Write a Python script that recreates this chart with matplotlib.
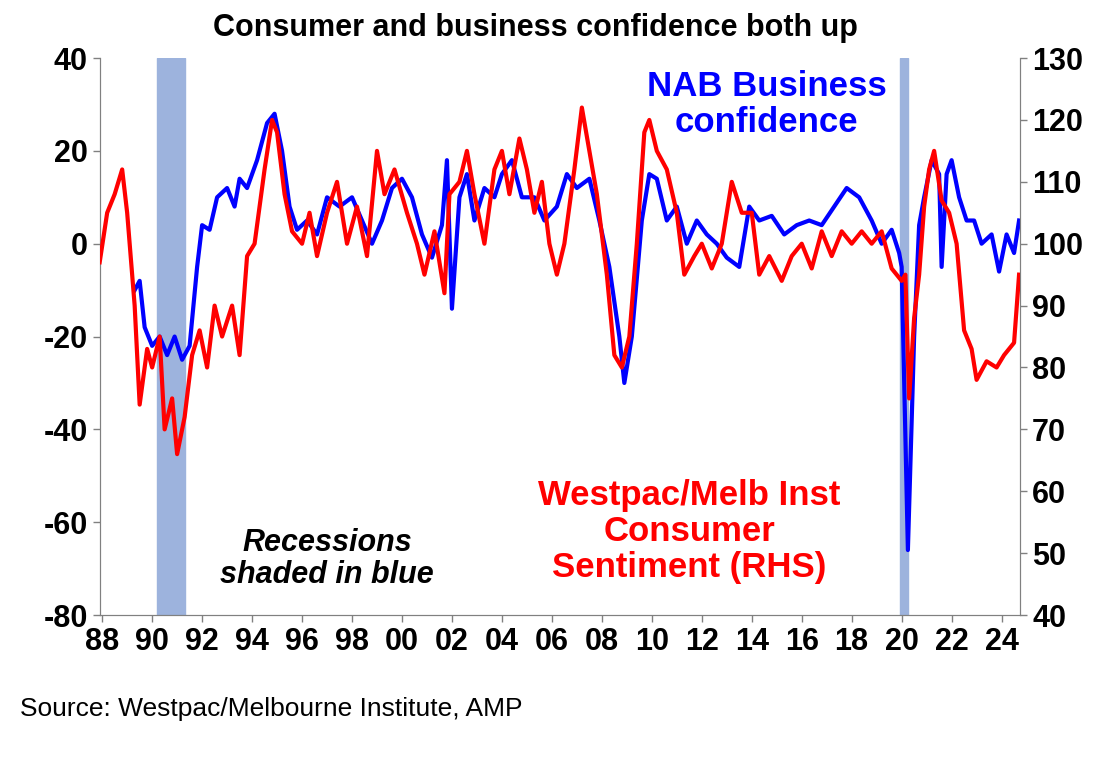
import matplotlib
matplotlib.use("Agg")
import matplotlib.pyplot as plt

plt.rcParams['font.family'] = ['Liberation Sans', 'DejaVu Sans']
plt.rcParams['axes.unicode_minus'] = False

nab_t = [1989.3, 1989.5, 1989.7, 1990.0, 1990.3, 1990.6, 1990.9, 1991.2, 1991.5, 1991.8, 1992.0, 1992.3,
         1992.6, 1993.0, 1993.3, 1993.5, 1993.8, 1994.2, 1994.6, 1994.9, 1995.2, 1995.5, 1995.8, 1996.2,
         1996.6, 1997.0, 1997.5, 1998.0, 1998.4, 1998.8, 1999.2, 1999.6, 2000.0, 2000.4, 2000.8, 2001.2,
         2001.6, 2001.8, 2002.0, 2002.3, 2002.6, 2002.9, 2003.3, 2003.7, 2004.0, 2004.4, 2004.8, 2005.3,
         2005.7, 2006.2, 2006.6, 2007.0, 2007.5, 2007.9, 2008.3, 2008.7, 2008.9, 2009.2, 2009.6, 2009.9,
         2010.2, 2010.6, 2011.0, 2011.4, 2011.8, 2012.2, 2012.6, 2013.0, 2013.5, 2013.9, 2014.3, 2014.8,
         2015.3, 2015.8, 2016.3, 2016.8, 2017.3, 2017.8, 2018.3, 2018.8, 2019.2, 2019.6, 2019.9, 2020.0,
         2020.25, 2020.5, 2020.7, 2020.9, 2021.2, 2021.5, 2021.6, 2021.8, 2022.0, 2022.3, 2022.6, 2022.9,
         2023.2, 2023.6, 2023.9, 2024.2, 2024.5, 2024.7]
nab_v = [-10, -8, -18, -22, -20, -24, -20, -25, -22, -5, 4, 3,
         10, 12, 8, 14, 12, 18, 26, 28, 20, 8, 3, 5,
         2, 10, 8, 10, 5, 0, 5, 12, 14, 10, 2, -3,
         4, 18, -14, 10, 15, 5, 12, 10, 15, 18, 10, 10,
         5, 8, 15, 12, 14, 5, -5, -20, -30, -20, 5, 15,
         14, 5, 8, 0, 5, 2, 0, -3, -5, 8, 5, 6,
         2, 4, 5, 4, 8, 12, 10, 5, 0, 3, -2, -5,
         -66, -20, 4, 10, 18, 15, -5, 15, 18, 10, 5, 5,
         0, 2, -6, 2, -2, 5]

wmi_t = [1987.9, 1988.2, 1988.5, 1988.8, 1989.0, 1989.3, 1989.5, 1989.8, 1990.0, 1990.3, 1990.5, 1990.8,
         1991.0, 1991.3, 1991.6, 1991.9, 1992.2, 1992.5, 1992.8, 1993.2, 1993.5, 1993.8, 1994.1, 1994.5,
         1994.8, 1995.0, 1995.3, 1995.6, 1996.0, 1996.3, 1996.6, 1997.0, 1997.4, 1997.8, 1998.2, 1998.6,
         1999.0, 1999.3, 1999.7, 2000.2, 2000.6, 2000.9, 2001.3, 2001.7, 2001.9, 2002.3, 2002.6, 2002.9,
         2003.3, 2003.7, 2004.0, 2004.3, 2004.7, 2005.0, 2005.3, 2005.6, 2005.9, 2006.2, 2006.5, 2006.9,
         2007.2, 2007.5, 2007.8, 2008.2, 2008.5, 2008.8, 2009.1, 2009.4, 2009.7, 2009.9, 2010.2, 2010.6,
         2011.0, 2011.3, 2011.7, 2012.0, 2012.4, 2012.8, 2013.2, 2013.6, 2014.0, 2014.3, 2014.7, 2015.2,
         2015.6, 2016.0, 2016.4, 2016.8, 2017.2, 2017.6, 2018.0, 2018.4, 2018.8, 2019.2, 2019.6, 2020.0,
         2020.15, 2020.3, 2020.5, 2020.7, 2020.9, 2021.1, 2021.3, 2021.6, 2021.9, 2022.2, 2022.5, 2022.8,
         2023.0, 2023.4, 2023.8, 2024.1, 2024.5, 2024.7]
wmi_v = [97, 105, 108, 112, 105, 90, 74, 83, 80, 85, 70, 75,
         66, 72, 82, 86, 80, 90, 85, 90, 82, 98, 100, 112,
         120, 118, 108, 102, 100, 105, 98, 105, 110, 100, 106, 98,
         115, 108, 112, 105, 100, 95, 102, 92, 108, 110, 115, 108,
         100, 112, 115, 108, 117, 112, 105, 110, 100, 95, 100, 112,
         122, 115, 108, 95, 82, 80, 85, 100, 118, 120, 115, 112,
         105, 95, 98, 100, 96, 100, 110, 105, 105, 95, 98, 94,
         98, 100, 96, 102, 98, 102, 100, 102, 100, 102, 96, 94,
         95, 75, 88, 95, 106, 112, 115, 107, 105, 100, 86, 83,
         78, 81, 80, 82, 84, 95]

recessions = [(1990.2, 1991.3), (2019.95, 2020.25)]
years = list(range(1988, 2025, 2))

fig = plt.figure(figsize=(11.2, 7.64), dpi=100)
ax = fig.add_axes([0.089, 0.195, 0.822, 0.729])
ax2 = ax.twinx()
for a, b in recessions:
    ax.axvspan(a, b, color="#9db3dd", zorder=0)
ax.plot(nab_t, nab_v, color="#0000ff", lw=3, zorder=2)
ax2.plot(wmi_t, wmi_v, color="#ff0000", lw=3, zorder=3)

ax.set_xlim(1987.9, 2024.75)
ax.set_ylim(-80, 40)
ax2.set_ylim(40, 130)
ax.set_yticks(range(-80, 41, 20))
ax2.set_yticks(range(40, 131, 10))
ax.set_xticks(years)
ax.set_xticklabels([f"{y % 100:02d}" for y in years])
for a in (ax, ax2):
    a.tick_params(labelsize=22, width=1, length=5, colors="#808080", labelcolor="black")
    for lab in a.get_yticklabels() + a.get_xticklabels():
        lab.set_fontweight("bold")
    for s in a.spines.values():
        s.set_color("#808080")
ax.spines["top"].set_visible(False)
ax2.spines["top"].set_visible(False)

fig.text(0.478, 0.963, "Consumer and business confidence both up", ha="center", va="center",
         fontsize=22, fontweight="bold")
ax.text(2014.6, 30, "NAB Business\nconfidence", color="#0000ff", fontsize=25, fontweight="bold",
        ha="center", va="center", linespacing=1.1)
ax.text(2011.5, -62, "Westpac/Melb Inst\nConsumer\nSentiment (RHS)", color="#ff0000", fontsize=25,
        fontweight="bold", ha="center", va="center", linespacing=1.1)
ax.text(1997.0, -68, "Recessions\nshaded in blue", fontsize=22, fontweight="bold", style="italic",
        ha="center", va="center", linespacing=1.1)
fig.text(0.018, 0.072, "Source: Westpac/Melbourne Institute, AMP", fontsize=19, va="center")

fig.savefig("out.png", dpi=100)
